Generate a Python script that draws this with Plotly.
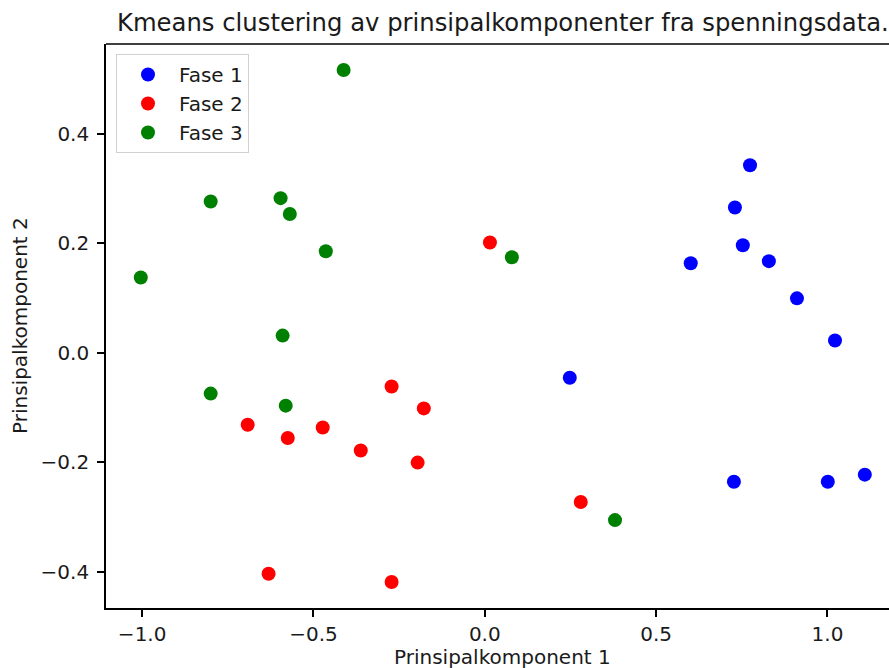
import plotly.graph_objects as go

# Principal component scores per K-means cluster
fase1_pc1 = [0.774, 0.730, 0.753, 0.829, 0.601, 0.911, 1.022, 0.248, 0.727, 1.001, 1.109]
fase1_pc2 = [0.342, 0.265, 0.196, 0.167, 0.163, 0.099, 0.022, -0.046, -0.236, -0.236, -0.223]

fase2_pc1 = [0.015, -0.272, -0.178, -0.692, -0.575, -0.473, -0.362, -0.196, 0.280, -0.631, -0.272]
fase2_pc2 = [0.201, -0.062, -0.102, -0.132, -0.156, -0.137, -0.179, -0.201, -0.273, -0.404, -0.419]

fase3_pc1 = [-0.412, -0.800, -0.596, -0.569, -0.464, -1.004, 0.079, -0.590, -0.800, -0.581, 0.380]
fase3_pc2 = [0.516, 0.276, 0.282, 0.253, 0.185, 0.137, 0.174, 0.031, -0.075, -0.097, -0.306]

clusters = [
    ("Fase 1", fase1_pc1, fase1_pc2, "blue"),
    ("Fase 2", fase2_pc1, fase2_pc2, "red"),
    ("Fase 3", fase3_pc1, fase3_pc2, "green"),
]

FONT = "DejaVu Sans"
TXT = "#1a1a1a"

fig = go.Figure()
for i, (name, xs, ys, color) in enumerate(clusters):
    fig.add_trace(go.Scatter(
        x=xs, y=ys, mode="markers", name=name,
        legendgroup=f"g{i}",
        marker=dict(color=color, size=14, line=dict(width=0)),
    ))

W, H = 889, 668
L, R, T, B = 106, 0, 44, 60
pw = W - L - R
ph = H - T - B

def px_x(p):
    return (p - L) / pw

def px_y(p):
    return (H - B - p) / ph

fig.update_layout(
    width=W, height=H,
    margin=dict(l=L, r=R, t=T, b=B),
    plot_bgcolor="white", paper_bgcolor="white",
    font=dict(family=FONT, size=20, color=TXT),
    showlegend=True,
    legend=dict(
        x=px_x(116), y=px_y(54), xanchor="left", yanchor="top",
        bgcolor="white", bordercolor="#d0d0d0", borderwidth=1,
        font=dict(family=FONT, size=20, color=TXT),
        tracegroupgap=0, itemsizing="trace", itemwidth=52,
    ),
    xaxis=dict(
        range=[-1.1055, 1.1796], showgrid=False, zeroline=False,
        showline=True, linecolor="black", linewidth=1.6,
        ticks="outside", ticklen=7, tickcolor="black", tickwidth=1.6,
        tickvals=[-1.0, -0.5, 0.0, 0.5, 1.0],
        ticktext=["\u22121.0", "\u22120.5", "0.0", "0.5", "1.0"],
        tickfont=dict(family=FONT, size=20, color=TXT),
        ticklabelstandoff=0,
    ),
    yaxis=dict(
        range=[-0.4666, 0.5636], showgrid=False, zeroline=False,
        showline=True, linecolor="black", linewidth=1.6,
        ticks="outside", ticklen=7, tickcolor="black", tickwidth=1.6,
        tickvals=[-0.4, -0.2, 0.0, 0.2, 0.4],
        ticktext=["\u22120.4", "\u22120.2", "0.0", "0.2", "0.4"],
        tickfont=dict(family=FONT, size=20, color=TXT),
        ticklabelstandoff=4,
    ),
    shapes=[dict(type="line", xref="paper", yref="paper", x0=0, x1=1, y0=1, y1=1,
                 line=dict(color="black", width=1.6))],
    annotations=[
        dict(text="Kmeans clustering av prinsipalkomponenter fra spenningsdata.",
             xref="paper", yref="paper", x=px_x(503), y=px_y(22),
             xanchor="center", yanchor="middle", showarrow=False,
             font=dict(family=FONT, size=24.3, color=TXT)),
        dict(text="Prinsipalkomponent 1",
             xref="paper", yref="paper", x=px_x(502), y=px_y(657),
             xanchor="center", yanchor="middle", showarrow=False,
             font=dict(family=FONT, size=20, color=TXT)),
        dict(text="Prinsipalkomponent 2", textangle=-90,
             xref="paper", yref="paper", x=px_x(20), y=0.5,
             xanchor="center", yanchor="middle", showarrow=False,
             font=dict(family=FONT, size=20, color=TXT)),
    ],
)

fig.write_html("out.html")
